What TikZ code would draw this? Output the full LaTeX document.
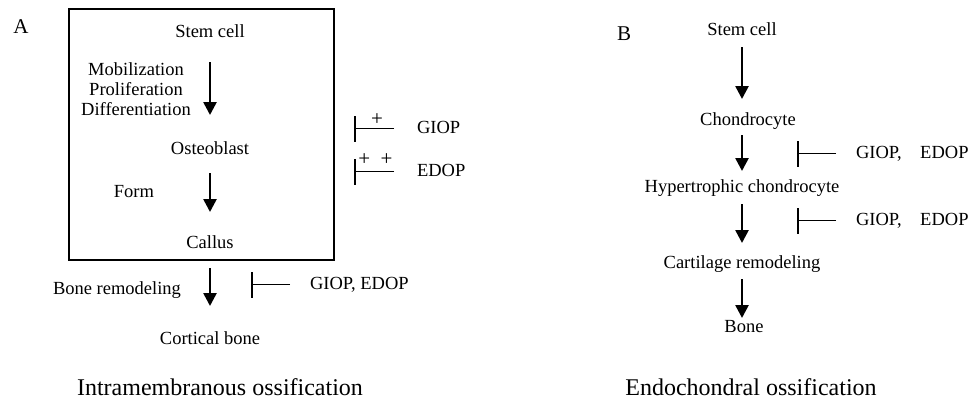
\documentclass[tikz,border=0pt]{standalone}
\usepackage{fontspec}
\setmainfont{Liberation Serif}
\usetikzlibrary{positioning,arrows.meta}

\begin{document}
\begin{tikzpicture}[x=1pt, y=-1pt, inner sep=0pt, outer sep=0pt,
        every node/.style={font=\fontsize{18.5}{20}\selectfont},
        txt/.style={text height=13pt, text depth=4pt},
        flow/.style={line width=2.6pt, -{Triangle[length=13pt, width=13pt]}},
        inhib/.style={line width=1.3pt, -{Bar[width=26pt, line width=1.6pt]}},
        sign/.style={font=\fontsize{21}{24}\selectfont},
        ttl/.style={font=\fontsize{24}{28}\selectfont, anchor=base}]
        \useasboundingbox (0,0) rectangle (976,399);

        % Panel A
        \node [font=\fontsize{21}{24}\selectfont, anchor=base] (LabA) at (21,33) {A};
        \node [draw, rectangle, line width=1.6pt, minimum width=265pt, minimum height=251pt] (BoxA) at (201.5,134.5) {};
        \node [txt] (StemA) at (210,32.5) {Stem cell};
        \node [txt, below=100pt of StemA] (OsteoA) {Osteoblast};
        \node [txt, below=77pt of OsteoA] (CallusA) {Callus};
        \node [txt, below=79pt of CallusA] (CortA) {Cortical bone};

        \node [align=center] (StepsA) at (136,89) {Mobilization\\Proliferation\\Differentiation};
        \node [txt] (FormA) at (134,192.5) {Form};
        \node [txt] (RemodA) at (117,289.5) {Bone remodeling};

        \node [txt, anchor=west] (GiopA) at (417,128.5) {GIOP};
        \node [txt, anchor=west] (EdopA) at (417,171.5) {EDOP};
        \node [txt, anchor=west] (BothA) at (310,284.5) {GIOP, EDOP};
        \coordinate [left=63pt of GiopA.west] (BarGA);
        \coordinate [left=63pt of EdopA.west] (BarEA);
        \coordinate [left=59pt of BothA.west] (BarBA);

        \node [ttl] (TitleA) at (220,395) {Intramembranous ossification};

        % Panel B
        \node [font=\fontsize{21}{24}\selectfont, anchor=base] (LabB) at (624,40) {B};
        \node [txt] (StemB) at (742,30.5) {Stem cell};
        \node [txt, below=73pt of StemB, xshift=6pt] (ChondB) {Chondrocyte};
        \node [txt, below=50pt of StemB |- ChondB.south] (HyperB) {Hypertrophic chondrocyte};
        \node [txt, below=59pt of HyperB] (CartB) {Cartilage remodeling};
        \node [txt, below=47pt of CartB, xshift=2pt] (BoneB) {Bone};

        \node [txt, anchor=west] (GiopB1) at (856,153.5) {GIOP,\quad EDOP};
        \node [txt, anchor=west] (GiopB2) at (856,220.5) {GIOP,\quad EDOP};
        \coordinate [left=59pt of GiopB1.west] (BarB1);
        \coordinate [left=59pt of GiopB2.west] (BarB2);

        \node [ttl] (TitleB) at (751,395) {Endochondral ossification};

        % Arrows
        \draw [flow, shorten <=21pt, shorten >=26pt] (StemA) -- (OsteoA);
        \draw [flow, shorten <=15pt, shorten >=23pt] (OsteoA) -- (CallusA);
        \draw [flow, shorten <=16pt, shorten >=25pt] (CallusA) -- (CortA);

        \draw [flow, shorten <=8pt, shorten >=13pt] (StemB.south) -- (StemB.south |- ChondB.north);
        \draw [flow, shorten <=6pt, shorten >=8pt] (HyperB.north |- ChondB.south) -- (HyperB.north);
        \draw [flow, shorten <=8pt, shorten >=12pt] (HyperB) -- (CartB);
        \draw [flow, shorten <=7pt, shorten >=1pt] (CartB.south) -- (CartB.south |- BoneB.north);

        % Inhibition
        \draw [inhib, shorten <=23pt] (GiopA.west) -- (BarGA) node [sign, pos=0.635, above=3pt] {+};
        \draw [inhib, shorten <=23pt] (EdopA.west) -- (BarEA) node [sign, pos=0.66, above=6pt] {+\enspace+};
        \draw [inhib, shorten <=20pt] (BothA.west) -- (BarBA);
        \draw [inhib, shorten <=20pt] (GiopB1.west) -- (BarB1);
        \draw [inhib, shorten <=20pt] (GiopB2.west) -- (BarB2);
    \end{tikzpicture}
\end{document}
